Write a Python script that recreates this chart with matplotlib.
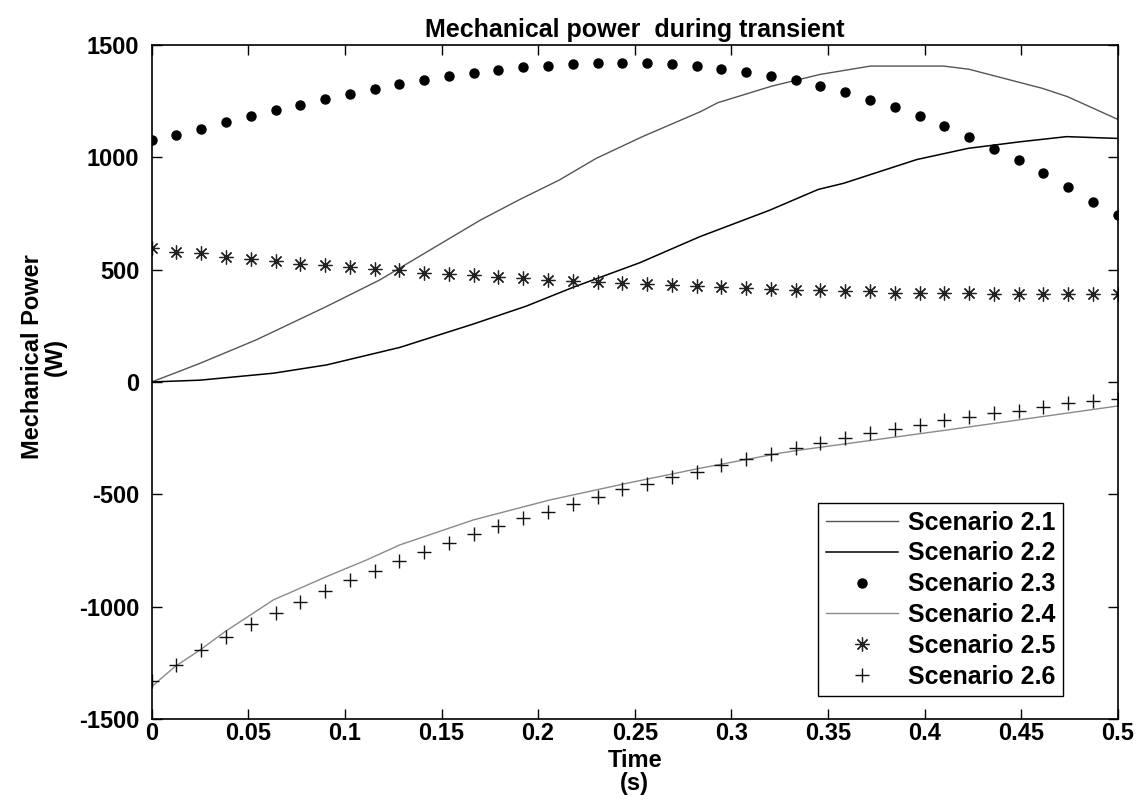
#!/usr/bin/env python
# -*- coding: utf-8 -*-

import numpy as np
import matplotlib
matplotlib.use('Agg')
import matplotlib.pyplot as plt

plt.rcParams['font.family'] = ['Liberation Sans', 'DejaVu Sans']
plt.rcParams['font.weight'] = 'bold'
plt.rcParams['axes.unicode_minus'] = False

# time grid of the marker series (40 samples over 0.5 s)
t_marks = np.linspace(0.0, 0.5, 40)

# Scenario 2.1 (thin gray line)
t_s21 = [0, 0.025, 0.054, 0.09, 0.118, 0.144, 0.17, 0.19, 0.211, 0.23, 0.254,
         0.284, 0.293, 0.321, 0.346, 0.372, 0.41, 0.423, 0.461, 0.474, 0.5]
p_s21 = [0, 83, 187, 334, 454, 587, 720, 810, 899, 995, 1092,
         1203, 1243, 1317, 1369, 1406, 1406, 1392, 1307, 1270, 1169]

# Scenario 2.2 (black line)
t_s22 = [0, 0.025, 0.063, 0.0906, 0.1285, 0.1665, 0.194, 0.218, 0.2527,
         0.2838, 0.32, 0.345, 0.358, 0.396, 0.4227, 0.4494, 0.4736, 0.5]
p_s22 = [0, 8, 39, 76, 154, 258, 338, 421, 531,
         647, 765, 857, 884, 990, 1040, 1069, 1092, 1084]

# Scenario 2.3 (dots)
p_s23 = [1077, 1099, 1126, 1158, 1184, 1209, 1234, 1259, 1280, 1305,
         1325, 1344, 1363, 1375, 1388, 1400, 1408, 1414, 1420, 1420,
         1420, 1414, 1406, 1393, 1381, 1363, 1343, 1317, 1292, 1254,
         1222, 1184, 1139, 1089, 1037, 987, 929, 866, 801, 743]

# Scenario 2.4 (light gray line)
t_s24 = [0, 0.012, 0.025, 0.038, 0.063, 0.0906, 0.1113, 0.1285, 0.1665,
         0.2062, 0.2459, 0.2838, 0.325, 0.3356, 0.4115, 0.5]
p_s24 = [-1356, -1267, -1193, -1111, -970, -866, -792, -725, -614,
         -525, -451, -384, -317, -303, -214, -107]

# Scenario 2.5 (asterisks)
p_s25 = [595, 580, 573, 558, 546, 540, 524, 521, 513, 502,
         498, 486, 482, 476, 469, 463, 454, 450, 447, 441,
         435, 432, 427, 424, 417, 414, 409, 408, 403, 403,
         398, 397, 396, 395, 393, 392, 392, 391, 391, 390]

# Scenario 2.6 (plus signs)
p_s26 = [-1329, -1259, -1193, -1136, -1078, -1027, -978, -929, -881, -840,
         -796, -755, -715, -676, -640, -607, -577, -543, -510, -478,
         -454, -421, -399, -369, -344, -320, -295, -273, -251, -228,
         -210, -191, -169, -154, -139, -128, -113, -95, -83, -77]

labels = ['Scenario 2.1', 'Scenario 2.2', 'Scenario 2.3',
          'Scenario 2.4', 'Scenario 2.5', 'Scenario 2.6']

fig = plt.figure(figsize=(11.46, 8.06), dpi=100)
ax = fig.add_axes([0.1324, 0.108, 0.8429, 0.8362])

ax.plot(t_s21, p_s21, '-', color='#555555', lw=1.0, label=labels[0])
ax.plot(t_s22, p_s22, '-', color='black', lw=1.1, label=labels[1])
ax.plot(t_marks, p_s23, 'o', color='black', ms=6.5, label=labels[2])
ax.plot(t_s24, p_s24, '-', color='#8a8a8a', lw=1.0, label=labels[3])
ax.plot(t_marks, p_s25, ls='none', marker=(8, 2, 0), color='#222222',
        ms=10, mew=0.9, label=labels[4])
ax.plot(t_marks, p_s26, ls='none', marker='+', color='#111111',
        ms=10, mew=1.0, label=labels[5])

ax.set_xlim(0, 0.5)
ax.set_ylim(-1500, 1500)
ax.set_xticks([0, 0.05, 0.1, 0.15, 0.2, 0.25, 0.3, 0.35, 0.4, 0.45, 0.5])
ax.set_xticklabels(['0', '0.05', '0.1', '0.15', '0.2', '0.25', '0.3',
                    '0.35', '0.4', '0.45', '0.5'])
ax.set_yticks([-1500, -1000, -500, 0, 500, 1000, 1500])
ax.tick_params(direction='in', length=7, width=1, top=True, right=True,
               labelsize=17)
ax.tick_params(axis='y', pad=9)
ax.tick_params(axis='x', pad=2)
for lab in ax.get_xticklabels() + ax.get_yticklabels():
    lab.set_fontweight('bold')
for sp in ax.spines.values():
    sp.set_linewidth(1.2)

ax.set_title('Mechanical power  during transient', fontsize=18,
             fontweight='bold', pad=6)
ax.set_xlabel('Time\n(s)', fontsize=17, fontweight='bold', labelpad=3,
              linespacing=1.0)
ax.set_ylabel('Mechanical Power\n(W)', fontsize=17, fontweight='bold',
              linespacing=1.0)
ax.yaxis.set_label_coords(-0.088, 0.537)

leg = ax.legend(loc='lower right', bbox_to_anchor=(1063 / 1146, 1 - 696 / 806),
                bbox_transform=fig.transFigure, borderaxespad=0,
                fancybox=False, framealpha=1, edgecolor='black',
                prop={'size': 18, 'weight': 'bold'}, numpoints=1,
                handlelength=2.9, labelspacing=0.27, borderpad=0.3,
                handletextpad=0.4)
leg.get_frame().set_linewidth(1.0)

plt.savefig('out.png', dpi=100)
